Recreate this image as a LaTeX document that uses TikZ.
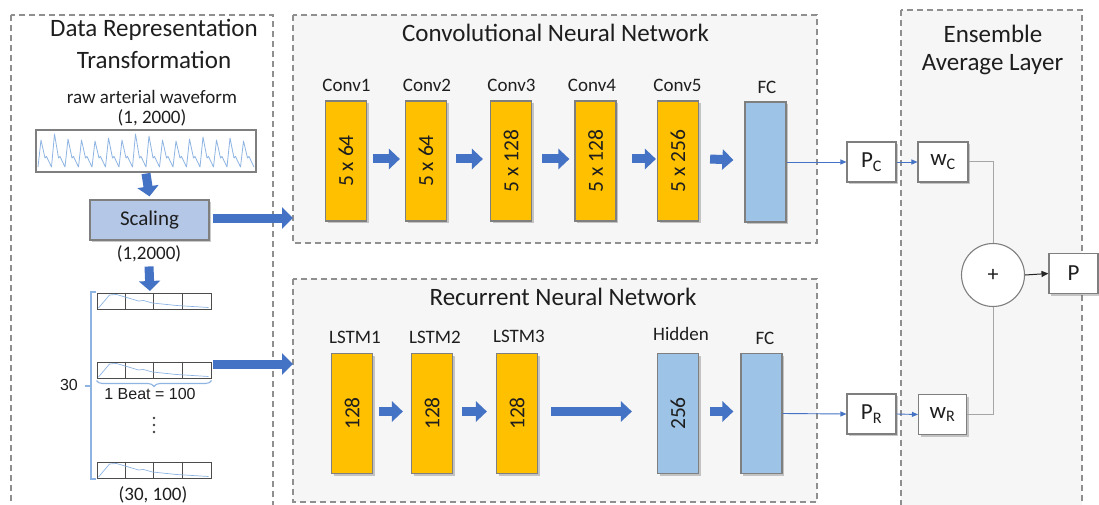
\documentclass[tikz,border=0pt]{standalone}
\usepackage{fontspec}
\setmainfont{Carlito}
\newfontfamily\arialfont{Liberation Sans}
\usetikzlibrary{arrows.meta,shadows,decorations.pathreplacing,calc}

\definecolor{layerorange}{HTML}{FFC000}
\definecolor{layerblue}{HTML}{9DC3E6}
\definecolor{scalefill}{HTML}{B4C7E7}
\definecolor{arrowblue}{HTML}{4472C4}
\definecolor{wavecol}{HTML}{8DB4E2}
\definecolor{panelfill}{HTML}{F6F6F6}
\definecolor{dashgray}{HTML}{8F8F8F}
\definecolor{bordergray}{HTML}{7F7F7F}
\definecolor{linegray}{HTML}{A6A6A6}
\definecolor{textdark}{HTML}{1E1E1E}

\tikzset{
  panel/.style={draw=dashgray, dash pattern=on 6pt off 4pt, line width=1.3pt},
  boxshadow/.style={drop shadow={shadow xshift=2pt, shadow yshift=-2pt, opacity=0.35, fill=black!60}},
  layer/.style={draw=bordergray, line width=1.2pt, minimum width=41pt, minimum height=120pt,
                inner sep=0pt, boxshadow},
  convlayer/.style={layer, fill=layerorange},
  denselayer/.style={layer, fill=layerblue},
  titletext/.style={text=textdark, font=\fontsize{25}{30}\selectfont, inner sep=0pt},
  lbltext/.style={text=textdark, font=\fontsize{19}{23}\selectfont, inner sep=0pt},
  intext/.style={text=textdark, font=\fontsize{21.5}{25}\selectfont, inner sep=0pt, rotate=90},
  fat/.style={draw=arrowblue, line width=9pt, -{Triangle[length=11pt,width=20pt]}},
  thinblue/.style={draw=arrowblue, line width=0.9pt, -{Triangle[length=6pt,width=5pt]}},
  ensbox/.style={draw=bordergray, line width=1.1pt, fill=white, minimum width=49pt,
                 minimum height=40pt, inner sep=0pt, boxshadow,
                 text=textdark, font=\fontsize{23}{27}\selectfont},
  wave/.style={draw=wavecol, line width=0.8pt, line join=round},
  cellbox/.style={draw=black!70, line width=1pt},
  bracecol/.style={draw=wavecol, line width=1.1pt},
}

\begin{document}
\begin{tikzpicture}[x=1pt, y=-1pt]
\clip (0,0) rectangle (1099,505);

% ---------- panels ----------
\fill[panelfill] (293,15) rectangle (817,243);
\draw[panel] (293,15) rectangle (817,243);
\fill[panelfill] (293,279) rectangle (817,502);
\draw[panel] (293,279) rectangle (817,502);
\fill[panelfill] (901,10) rectangle (1082,520);
\draw[panel] (901,10) rectangle (1082,520);
\draw[panel] (11,15) rectangle (273,520);

\coordinate (cnnin) at (293,218);
\coordinate (rnnin) at (293,364);

% ---------- data representation ----------
\node[titletext] (dt1) at (154,30) {Data Representation};
\node[titletext] (dt2) at (154,60) {Transformation};
\node[lbltext] (rawlbl) at (152,97) {raw arterial waveform};
\node[lbltext] (rawdim) at (152,118) {(1, 2000)};

\node[draw=bordergray, line width=1.1pt, minimum width=220pt, minimum height=42pt, inner sep=0pt, fill=white] (wave) at (146,151) {};
\draw[wave] (38,167)
  \foreach \pk in {140,134,139,140,141,138,140,134,136,140,141,139,137,140,138,141} {
    -- ++(3,{\pk-167}) -- ++(4,{158-\pk}) -- ++(1.5,-1.5) -- ++(5,10.5)
  };

\node[draw=bordergray, line width=1.2pt, fill=scalefill, minimum width=119pt, minimum height=40pt,
      inner sep=0pt, boxshadow, text=textdark, font=\fontsize{21}{25}\selectfont] (scaling) at (149.5,220) {Scaling};
\node[lbltext] (scaledim) at (149,254) {(1,2000)};

\draw[draw=arrowblue, line width=9pt, -{Triangle[length=10pt,width=21pt]}] ([yshift=-1pt]wave.south) -- ([yshift=3pt]scaling.north);
\draw[draw=arrowblue, line width=9pt, -{Triangle[length=10pt,width=21pt]}] ([yshift=-4pt]scaledim.south) -- (150,291);

% beat rows
\foreach \r/\yy in {r1/301, r2/370, r3/470} {
  \node[cellbox, minimum width=114pt, minimum height=16pt, inner sep=0pt] (\r) at (154,\yy) {};
  \begin{scope}[shift={(\r.north west)}]
    \draw[cellbox] (28.5,0) -- (28.5,16) (57,0) -- (57,16) (85.5,0) -- (85.5,16);
    \draw[wave, line width=0.7pt] (2,15.5) -- (13,2.5) -- (20,2) -- (32,5.5) -- (42,8.5) -- (47,8)
      -- (56,10.5) -- (80,13) -- (112,15);
  \end{scope}
}
\draw[bracecol] (96,292) -- (91,292) -- (91,479) -- (96,479);
\draw[bracecol] (91,386) -- (85,386);
\node[text=textdark, font=\arialfont\fontsize{16}{19}\selectfont, inner sep=0pt] (count) at (69,385) {30};
\draw[bracecol, decorate, decoration={brace, mirror, amplitude=6pt}]
  ([yshift=-2pt]r2.south west) -- ([yshift=-2pt]r2.south east);
\node[text=textdark, font=\arialfont\fontsize{16}{19}\selectfont, inner sep=0pt] (beat) at (150,394) {1 Beat = 100};
\foreach \dy in {418,425,432} \fill[black!75] (154,\dy) circle (1.4pt);
\node[lbltext] (rowdim) at (153,495) {(30, 100)};

\draw[fat, -{Triangle[length=11pt,width=21pt]}] ([xshift=3pt]scaling.east |- cnnin) -- (cnnin);
\draw[fat, -{Triangle[length=11pt,width=21pt]}] (213,364) -- (rnnin);

% ---------- convolutional branch ----------
\node[titletext] (cnnt) at (555.5,33) {Convolutional Neural Network};
\node[convlayer] (c1) at (346,161) {};
\node[convlayer] (c2) at (426,161) {};
\node[convlayer] (c3) at (511,161) {};
\node[convlayer] (c4) at (595.5,161) {};
\node[convlayer] (c5) at (678,161) {};
\node[denselayer] (fc1) at (765.5,162) {};
\node[intext] at (c1) {5 x 64};
\node[intext] at (c2) {5 x 64};
\node[intext] at (c3) {5 x 128};
\node[intext] at (c4) {5 x 128};
\node[intext] at (c5) {5 x 256};
\node[lbltext] at (346.5,85) {Conv1};
\node[lbltext] at (427,85) {Conv2};
\node[lbltext] at (511.5,85) {Conv3};
\node[lbltext] at (592,85) {Conv4};
\node[lbltext] at (677.5,85) {Conv5};
\node[lbltext] at (767,87) {FC};

\draw[fat] ([xshift=6pt,yshift=2pt]c1.east) -- ([xshift=-5pt,yshift=2pt]c2.west);
\draw[fat] ([xshift=9pt,yshift=2pt]c2.east) -- ([xshift=-7pt,yshift=2pt]c3.west);
\draw[fat] ([xshift=10pt,yshift=2pt]c3.east) -- ([xshift=-5pt,yshift=2pt]c4.west);
\draw[fat] ([xshift=15pt,yshift=2pt]c4.east) -- ([xshift=-1pt,yshift=2pt]c5.west);
\draw[fat] ([xshift=11pt,yshift=2pt]c5.east) -- ([xshift=-11pt,yshift=2pt]fc1.west);

% ---------- recurrent branch ----------
\node[titletext] (rnnt) at (563,297) {Recurrent Neural Network};
\node[convlayer] (l1) at (352,413.5) {};
\node[convlayer] (l2) at (432,413.5) {};
\node[convlayer] (l3) at (517,413.5) {};
\node[denselayer] (hid) at (678,413.5) {};
\node[denselayer] (fc2) at (761.5,413.5) {};
\node[intext] at (l1) {128};
\node[intext] at (l2) {128};
\node[intext] at (l3) {128};
\node[intext] at (hid) {256};
\node[lbltext] at (355,337) {LSTM1};
\node[lbltext] at (435,337) {LSTM2};
\node[lbltext] at (519,336) {LSTM3};
\node[lbltext] at (681,334) {Hidden};
\node[lbltext] at (765,338) {FC};

\draw[fat] ([xshift=6pt,yshift=2pt]l1.east) -- ([xshift=-8pt,yshift=2pt]l2.west);
\draw[fat] ([xshift=9pt,yshift=2pt]l2.east) -- ([xshift=-9pt,yshift=2pt]l3.west);
\draw[fat] ([xshift=13pt,yshift=2pt]l3.east) -- ([xshift=-25pt,yshift=2pt]hid.west);
\draw[fat] ([xshift=11pt,yshift=2pt]hid.east) -- ([xshift=-7pt,yshift=2pt]fc2.west);

% ---------- ensemble average ----------
\node[titletext] (enst1) at (993,34) {Ensemble};
\node[titletext] (enst2) at (992.5,65) {Average Layer};

\node[ensbox] (pc) at (871.5,162) {P\textsubscript{C}};
\node[ensbox, minimum width=50pt] (wc) at (943,162) {w\textsubscript{C}};
\node[ensbox] (pr) at (871.5,414) {P\textsubscript{R}};
\node[ensbox, minimum width=48pt] (wr) at (942.5,414.5) {w\textsubscript{R}};
\node[draw=bordergray, line width=1.1pt, fill=white, circle, minimum size=63pt, inner sep=0pt,
      text=textdark, font=\fontsize{22}{26}\selectfont] (sum) at (993,275) {+};
\node[ensbox] (pout) at (1073.5,273.5) {P};

\draw[thinblue] (fc1.east) -- (pc.west);
\draw[thinblue] (fc2.east) -- (pr.west);
\draw[thinblue] (pc.east) -- (wc.west);
\draw[thinblue] (pr.east) -- (wr.west);
\draw[linegray, line width=1pt] (wc.east) -| (sum.north);
\draw[linegray, line width=1pt] (wr.east) -| (sum.south);
\draw[black!85, line width=1pt, -{Triangle[length=7pt,width=6pt]}] (sum.east) -- (pout.west);

\end{tikzpicture}
\end{document}
